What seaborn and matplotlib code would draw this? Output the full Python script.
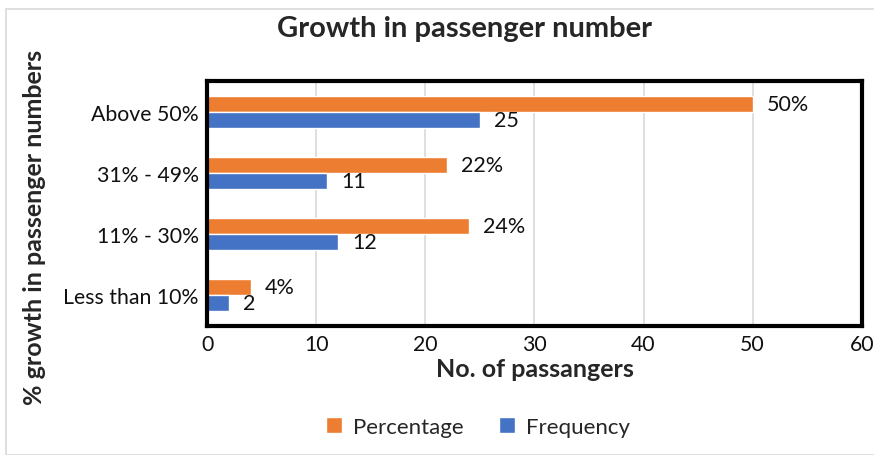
import matplotlib
matplotlib.use("Agg")
import matplotlib.pyplot as plt
import seaborn as sns
import pandas as pd
from matplotlib.patches import Rectangle

categories = ["Above 50%", "31% - 49%", "11% - 30%", "Less than 10%"]
percentage = [50, 22, 24, 4]
frequency = [25, 11, 12, 2]
series = ["Percentage", "Frequency"]
colors = ["#ED7D31", "#4472C4"]

df = pd.DataFrame({
    "category": categories * 2,
    "value": percentage + frequency,
    "series": [series[0]] * len(categories) + [series[1]] * len(categories),
})

sns.set_style("white")
plt.rcParams["font.family"] = ["Lato", "DejaVu Sans"]

fig = plt.figure(figsize=(8.74, 4.56), dpi=100)
ax = fig.add_axes([0.237, 0.283, 0.749, 0.537])

sns.barplot(data=df, y="category", x="value", hue="series", orient="h",
            palette=colors, hue_order=series, order=categories,
            width=0.52, saturation=1, ax=ax, legend=True)

ax.set_xlim(0, 60)
ax.set_xticks(range(0, 61, 10))
ax.grid(axis="x", color="#d9d9d9", linewidth=1.2)
ax.set_axisbelow(True)
for s in ax.spines.values():
    s.set_visible(True)
    s.set_color("black")
    s.set_linewidth(3)

ax.tick_params(axis="both", labelsize=15.3, length=0, pad=6, colors="#111111")
ax.set_ylabel("% growth in passenger numbers", fontsize=18, fontweight="bold", labelpad=8)
ax.yaxis.set_label_coords(-0.246, 0.405)
ax.set_xlabel("No. of passangers", fontsize=18, fontweight="bold", labelpad=2)
fig.suptitle("Growth in passenger number", x=0.532, y=0.965, fontsize=21, fontweight="bold")

for i, cont in enumerate(ax.containers):
    if i == 0:
        labels = [f"{v}%" for v in percentage]
    else:
        labels = [f"{v}" for v in frequency]
    ax.bar_label(cont, labels=labels, padding=10, fontsize=15.5, color="#111111")

handles, labs = ax.get_legend_handles_labels()
ax.legend_.remove()
fig.legend(handles, labs, loc="center", bbox_to_anchor=(0.547, 0.062), ncol=2,
           frameon=False, fontsize=16, handlelength=0.7, handleheight=0.7,
           handletextpad=0.5, columnspacing=1.6)

fig.patches.append(Rectangle((6/874, 0.0), 1.0, 1 - 10/456, transform=fig.transFigure,
                             fill=False, edgecolor="#d9d9d9", linewidth=1.2))

fig.savefig("out.png", dpi=100)
